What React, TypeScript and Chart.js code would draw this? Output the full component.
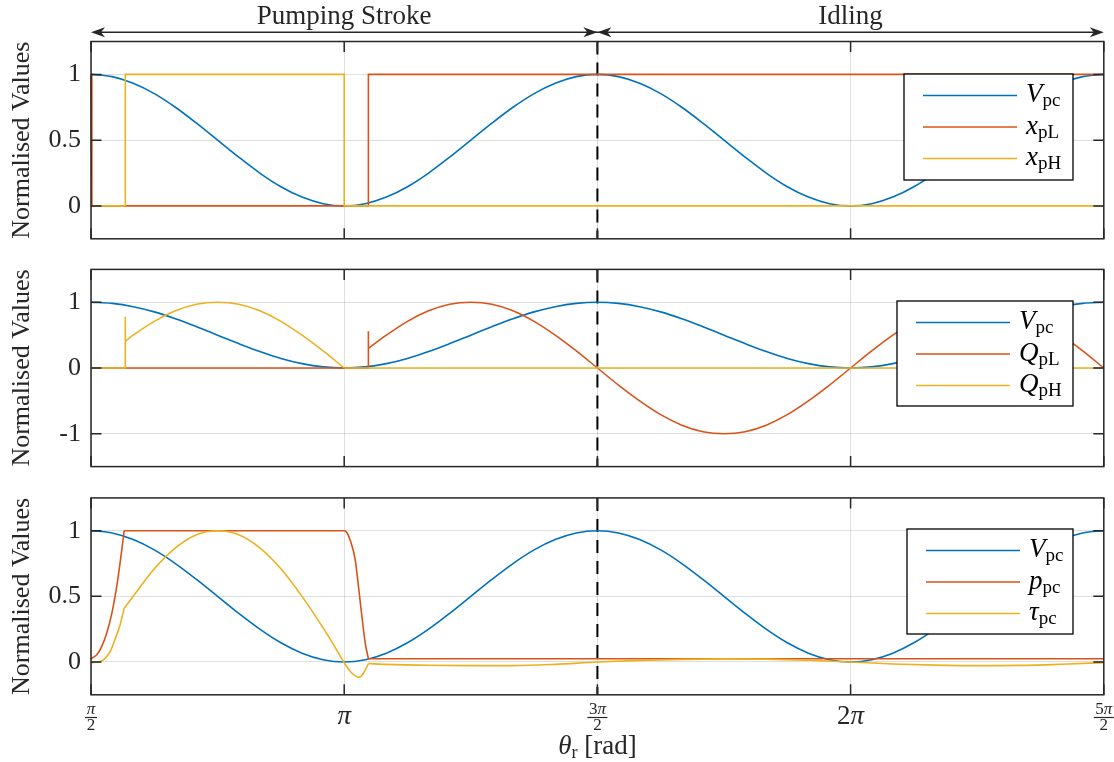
import React, { useEffect, useRef } from "react";
import { Chart, registerables } from "chart.js";

Chart.register(...registerables);

// ---------- data (angles in degrees) ----------
const THETA_DEG = [90, 97.5, 105, 112.5, 120, 127.5, 135, 142.5, 150, 157.5, 165, 172.5, 180, 187.5, 195, 202.5, 210, 217.5, 225, 232.5, 240, 247.5, 255, 262.5, 270, 277.5, 285, 292.5, 300, 307.5, 315, 322.5, 330, 337.5, 345, 352.5, 360, 367.5, 375, 382.5, 390, 397.5, 405, 412.5, 420, 427.5, 435, 442.5, 450];
const V_PC = [1, 0.983, 0.933, 0.854, 0.75, 0.629, 0.5, 0.371, 0.25, 0.146, 0.067, 0.017, 0, 0.017, 0.067, 0.146, 0.25, 0.371, 0.5, 0.629, 0.75, 0.854, 0.933, 0.983, 1, 0.983, 0.933, 0.854, 0.75, 0.629, 0.5, 0.371, 0.25, 0.146, 0.067, 0.017, 0, 0.017, 0.067, 0.146, 0.25, 0.371, 0.5, 0.629, 0.75, 0.854, 0.933, 0.983, 1];

// top panel: valve positions
const XPL_THETA = [90, 90.3, 188.6, 188.6, 450];
const XPL = [1, 0, 0, 1, 1];
const XPH_THETA = [90, 102.2, 102.2, 180, 180, 450];
const XPH = [0, 0, 1, 1, 0, 0];

// middle panel: flows
const QPL_STEP_THETA = [90, 188.6, 188.6, 188.6];
const QPL_STEP = [0, 0, 0.56, 0.3];
const QPL_ARC_THETA = [188.6, 195, 202.5, 210, 217.5, 225, 232.5, 240, 247.5, 255, 262.5, 270, 277.5, 285, 292.5, 300, 307.5, 315, 322.5, 330, 337.5, 345, 352.5, 360, 367.5, 375, 382.5, 390, 397.5, 405, 412.5, 420, 427.5, 435, 442.5, 450];
const QPL_ARC = [0.3, 0.5, 0.71, 0.87, 0.97, 1, 0.97, 0.87, 0.71, 0.5, 0.26, 0, -0.26, -0.5, -0.71, -0.87, -0.97, -1, -0.97, -0.87, -0.71, -0.5, -0.26, 0, 0.26, 0.5, 0.71, 0.87, 0.97, 1, 0.97, 0.87, 0.71, 0.5, 0.26, 0];
const QPH_STEP_THETA = [90, 102.2, 102.2, 102.2];
const QPH_STEP = [0, 0, 0.78, 0.41];
const QPH_ARC_THETA = [102.2, 105, 112.5, 120, 127.5, 135, 142.5, 150, 157.5, 165, 172.5, 180];
const QPH_ARC = [0.41, 0.5, 0.71, 0.87, 0.97, 1, 0.97, 0.87, 0.71, 0.5, 0.26, 0];
const QPH_TAIL_THETA = [180, 450];
const QPH_TAIL = [0, 0];

// bottom panel: pressure and torque
const PPC_RISE_THETA = [90, 90.3, 92, 93.8, 95.6, 97.4, 99.1, 100.3, 101.8];
const PPC_RISE = [0.02, 0.028, 0.053, 0.117, 0.22, 0.37, 0.57, 0.75, 1];
const PPC_HOLD_THETA = [101.8, 180, 181, 182.1, 183.9, 185.1, 186.3, 187.5, 188.6];
const PPC_HOLD = [1, 1, 0.985, 0.93, 0.78, 0.57, 0.345, 0.14, 0.025];
const PPC_TAIL_THETA = [188.6, 450];
const PPC_TAIL = [0.025, 0.025];
const TAU_RISE_THETA = [90, 93.2, 95, 96.8, 98.5, 100.3, 101.8];
const TAU_RISE = [-0.005, 0.003, 0.028, 0.078, 0.17, 0.28, 0.41];
const TAU_ARC_THETA = [101.8, 105, 112.5, 120, 127.5, 135, 142.5, 150, 157.5, 165, 172.5, 176, 180, 182.5, 185.4, 187.5, 188.6];
const TAU_ARC = [0.41, 0.5, 0.71, 0.87, 0.97, 1, 0.97, 0.87, 0.71, 0.5, 0.26, 0.14, -0.005, -0.08, -0.117, -0.06, -0.012];
const TAU_TAIL_THETA = [188.6, 195, 210, 225, 240, 255, 270, 285, 300, 315, 330, 345, 360, 375, 390, 405, 420, 435, 450];
const TAU_TAIL = [-0.012, -0.018, -0.025, -0.028, -0.028, -0.018, 0, 0.012, 0.02, 0.024, 0.022, 0.013, 0, -0.015, -0.024, -0.028, -0.026, -0.017, -0.005];

// ticks
const X_TICKS_PI = [0.5, 1, 1.5, 2, 2.5];
const Y_TICKS_UNIT = [0, 0.5, 1];
const Y_TICKS_SIGNED = [-1, 0, 1];

// ---------- styles ----------
const BLUE = "#0072BD";
const ORANGE = "#D95319";
const YELLOW = "#EDB120";
const AXIS = "#262626";
const GRID = "rgba(38,38,38,0.15)";
const FONT = '"Liberation Serif", "Times New Roman", serif';
const W = 1114;
const H = 762;
const DEG = Math.PI / 180;

type Part = { t: number[]; v: number[]; smooth: boolean };
type Series = { parts: Part[]; color: string; main: string; sub: string };
type Panel = {
  top: number; bottom: number; yMin: number; yMax: number; yTicks: number[];
  series: Series[]; legend: { left: number; right: number; top: number; bottom: number };
  arrows?: boolean; xLabels?: boolean;
};

const vSeries: Series = { parts: [{ t: THETA_DEG, v: V_PC, smooth: true }], color: BLUE, main: "V", sub: "pc" };

const PANELS: Panel[] = [
  {
    top: 41.5, bottom: 238.8, yMin: -0.25, yMax: 1.25, yTicks: Y_TICKS_UNIT,
    series: [
      vSeries,
      { parts: [{ t: XPL_THETA, v: XPL, smooth: false }], color: ORANGE, main: "x", sub: "pL" },
      { parts: [{ t: XPH_THETA, v: XPH, smooth: false }], color: YELLOW, main: "x", sub: "pH" },
    ],
    legend: { left: 904, right: 1073, top: 74, bottom: 180 },
    arrows: true,
  },
  {
    top: 269.4, bottom: 466.6, yMin: -1.5, yMax: 1.5, yTicks: Y_TICKS_SIGNED,
    series: [
      vSeries,
      {
        parts: [
          { t: QPL_STEP_THETA, v: QPL_STEP, smooth: false },
          { t: QPL_ARC_THETA, v: QPL_ARC, smooth: true },
        ], color: ORANGE, main: "Q", sub: "pL",
      },
      {
        parts: [
          { t: QPH_STEP_THETA, v: QPH_STEP, smooth: false },
          { t: QPH_ARC_THETA, v: QPH_ARC, smooth: true },
          { t: QPH_TAIL_THETA, v: QPH_TAIL, smooth: false },
        ], color: YELLOW, main: "Q", sub: "pH",
      },
    ],
    legend: { left: 897, right: 1073, top: 301, bottom: 406 },
  },
  {
    top: 497.9, bottom: 694.8, yMin: -0.25, yMax: 1.25, yTicks: Y_TICKS_UNIT,
    series: [
      vSeries,
      {
        parts: [
          { t: PPC_RISE_THETA, v: PPC_RISE, smooth: true },
          { t: PPC_HOLD_THETA, v: PPC_HOLD, smooth: true },
          { t: PPC_TAIL_THETA, v: PPC_TAIL, smooth: false },
        ], color: ORANGE, main: "p", sub: "pc",
      },
      {
        parts: [
          { t: TAU_RISE_THETA, v: TAU_RISE, smooth: true },
          { t: TAU_ARC_THETA, v: TAU_ARC, smooth: true },
          { t: TAU_TAIL_THETA, v: TAU_TAIL, smooth: true },
        ], color: YELLOW, main: "τ", sub: "pc",
      },
    ],
    legend: { left: 907, right: 1073, top: 529, bottom: 634 },
    xLabels: true,
  },
];

type Txt = { s: string; size: number; italic?: boolean; dy?: number };

function fontOf(p: Txt) {
  return `${p.italic ? "italic " : ""}${p.size}px ${FONT}`;
}

function drawRich(ctx: CanvasRenderingContext2D, parts: Txt[], x: number, y: number, align: "left" | "center") {
  let w = 0;
  for (const p of parts) {
    ctx.font = fontOf(p);
    w += ctx.measureText(p.s).width;
  }
  let cx = align === "center" ? x - w / 2 : x;
  ctx.textAlign = "left";
  ctx.textBaseline = "alphabetic";
  for (const p of parts) {
    ctx.font = fontOf(p);
    ctx.fillText(p.s, cx, y + (p.dy || 0));
    cx += ctx.measureText(p.s).width;
  }
}

function drawFrac(ctx: CanvasRenderingContext2D, x: number, num: Txt[], den: Txt[], barY: number, barW: number) {
  drawRich(ctx, num, x, barY - 4, "center");
  ctx.fillRect(x - barW / 2, barY - 0.6, barW, 1.2);
  drawRich(ctx, den, x, barY + 12.5, "center");
}

function arrowHead(ctx: CanvasRenderingContext2D, tipX: number, y: number, dir: number) {
  const L = 14, HW = 5, N = 4;
  ctx.beginPath();
  ctx.moveTo(tipX, y);
  ctx.lineTo(tipX - dir * L, y - HW);
  ctx.lineTo(tipX - dir * (L - N), y);
  ctx.lineTo(tipX - dir * L, y + HW);
  ctx.closePath();
  ctx.fill();
}

function makePlugin(panel: Panel, idx: number) {
  return {
    id: "decor" + idx,
    beforeDatasetsDraw(chart: any) {
      const { ctx, chartArea: a, scales } = chart;
      const px = scales.x.getPixelForValue(1.5 * Math.PI);
      ctx.save();
      ctx.strokeStyle = "#000";
      ctx.lineWidth = 2;
      ctx.setLineDash([13, 8]);
      ctx.beginPath();
      ctx.moveTo(px, a.top);
      ctx.lineTo(px, a.bottom);
      ctx.stroke();
      ctx.restore();
    },
    afterDatasetsDraw(chart: any) {
      const { ctx, chartArea: a, scales } = chart;
      ctx.save();
      ctx.strokeStyle = AXIS;
      ctx.lineWidth = 1.5;
      ctx.strokeRect(a.left, a.top, a.right - a.left, a.bottom - a.top);
      const TL = 10.5;
      ctx.beginPath();
      for (const v of X_TICKS_PI) {
        const px = scales.x.getPixelForValue(v * Math.PI);
        ctx.moveTo(px, a.top);
        ctx.lineTo(px, a.top + TL);
        ctx.moveTo(px, a.bottom);
        ctx.lineTo(px, a.bottom - TL);
      }
      for (const v of panel.yTicks) {
        const py = scales.y.getPixelForValue(v);
        ctx.moveTo(a.left, py);
        ctx.lineTo(a.left + TL, py);
        ctx.moveTo(a.right, py);
        ctx.lineTo(a.right - TL, py);
      }
      ctx.stroke();
      // legend
      const L = panel.legend;
      ctx.fillStyle = "#fff";
      ctx.fillRect(L.left, L.top, L.right - L.left, L.bottom - L.top);
      ctx.strokeStyle = "#000";
      ctx.lineWidth = 1.3;
      ctx.strokeRect(L.left, L.top, L.right - L.left, L.bottom - L.top);
      const rows = [21.5, 53, 84.5];
      panel.series.forEach((s, i) => {
        const ry = L.top + rows[i];
        ctx.strokeStyle = s.color;
        ctx.lineWidth = 1.6;
        ctx.beginPath();
        ctx.moveTo(L.left + 19, ry);
        ctx.lineTo(L.left + 113, ry);
        ctx.stroke();
        ctx.fillStyle = "#000";
        drawRich(ctx, [
          { s: s.main, size: 27, italic: true },
          { s: s.sub, size: 19, dy: 4 },
        ], L.left + 122, ry + 6.5, "left");
      });
      ctx.restore();
    },
    afterDraw(chart: any) {
      const { ctx, chartArea: a, scales } = chart;
      const xp = (v: number) => scales.x.getPixelForValue(v * Math.PI);
      ctx.save();
      ctx.fillStyle = AXIS;
      ctx.strokeStyle = AXIS;
      if (panel.arrows) {
        const y = 32.3;
        ctx.lineWidth = 1.4;
        ctx.beginPath();
        ctx.moveTo(xp(0.5) + 4, y);
        ctx.lineTo(xp(2.5) - 4, y);
        ctx.stroke();
        arrowHead(ctx, xp(0.5), y, -1);
        arrowHead(ctx, xp(1.5), y, 1);
        arrowHead(ctx, xp(1.5), y, -1);
        arrowHead(ctx, xp(2.5), y, 1);
        drawRich(ctx, [{ s: "Pumping Stroke", size: 27 }], xp(1), 24, "center");
        drawRich(ctx, [{ s: "Idling", size: 27 }], xp(2), 24, "center");
      }
      if (panel.xLabels) {
        const barY = 717.5;
        drawFrac(ctx, xp(0.5), [{ s: "π", size: 17, italic: true }], [{ s: "2", size: 17 }], barY, 12);
        drawRich(ctx, [{ s: "π", size: 27, italic: true }], xp(1), 723.5, "center");
        drawFrac(ctx, xp(1.5), [{ s: "3", size: 17 }, { s: "π", size: 17, italic: true }], [{ s: "2", size: 17 }], barY, 20);
        drawRich(ctx, [{ s: "2", size: 27 }, { s: "π", size: 27, italic: true }], xp(2), 723.5, "center");
        drawFrac(ctx, xp(2.5), [{ s: "5", size: 17 }, { s: "π", size: 17, italic: true }], [{ s: "2", size: 17 }], barY, 20);
        drawRich(ctx, [
          { s: "θ", size: 27, italic: true },
          { s: "r", size: 18, dy: 4 },
          { s: " [rad]", size: 27 },
        ], (a.left + a.right) / 2, 754, "center");
      }
      ctx.restore();
    },
  };
}

function buildConfig(panel: Panel, idx: number): any {
  const n = panel.series.length;
  const datasets: any[] = [];
  panel.series.forEach((s, i) => {
    s.parts.forEach((p, j) => {
      datasets.push({
        label: s.main + s.sub + "_" + j,
        data: p.t.map((t, k) => ({ x: t * DEG, y: p.v[k] })),
        borderColor: s.color,
        backgroundColor: s.color,
        borderWidth: 1.6,
        pointRadius: 0,
        tension: 0,
        cubicInterpolationMode: p.smooth ? "monotone" : "default",
        fill: false,
        clip: 4,
        order: n - i,
      });
    });
  });
  return {
    type: "line",
    data: { datasets },
    options: {
      animation: false,
      responsive: false,
      events: [],
      layout: { padding: { left: 0, right: W - 1103.8, top: panel.top, bottom: H - panel.bottom } },
      plugins: { legend: { display: false }, tooltip: { enabled: false } },
      scales: {
        x: {
          type: "linear",
          min: 0.5 * Math.PI,
          max: 2.5 * Math.PI,
          afterBuildTicks: (s: any) => {
            s.ticks = X_TICKS_PI.map((v) => ({ value: v * Math.PI }));
          },
          afterFit: (s: any) => {
            s.height = 0;
          },
          ticks: { display: false },
          grid: { color: GRID, lineWidth: 1, drawTicks: false },
          border: { display: false },
        },
        y: {
          type: "linear",
          min: panel.yMin,
          max: panel.yMax,
          afterBuildTicks: (s: any) => {
            s.ticks = panel.yTicks.map((v) => ({ value: v }));
          },
          afterFit: (s: any) => {
            s.width = 91;
          },
          ticks: {
            font: { family: FONT, size: 26 },
            color: AXIS,
            padding: 10,
            callback: (v: number) => String(v),
          },
          grid: { color: GRID, lineWidth: 1, drawTicks: false },
          border: { display: false },
          title: {
            display: true,
            text: "Normalised Values",
            font: { family: FONT, size: 26 },
            color: AXIS,
            padding: { top: 7, bottom: 0 },
          },
        },
      },
    },
    plugins: [makePlugin(panel, idx)],
  };
}

function PanelCanvas({ panel, idx }: { panel: Panel; idx: number }) {
  const ref = useRef<HTMLCanvasElement>(null);
  useEffect(() => {
    const chart = new Chart(ref.current as HTMLCanvasElement, buildConfig(panel, idx));
    return () => chart.destroy();
  }, [panel, idx]);
  return (
    <canvas
      ref={ref}
      width={W}
      height={H}
      style={{ position: "absolute", left: 0, top: 0, width: W, height: H }}
    />
  );
}

export default function App() {
  useEffect(() => {
    document.body.style.margin = "0";
    document.body.style.background = "#fff";
  }, []);
  return (
    <div style={{ position: "relative", width: W, height: H, background: "#fff", overflow: "hidden" }}>
      {PANELS.map((p, i) => (
        <PanelCanvas key={i} panel={p} idx={i} />
      ))}
    </div>
  );
}
